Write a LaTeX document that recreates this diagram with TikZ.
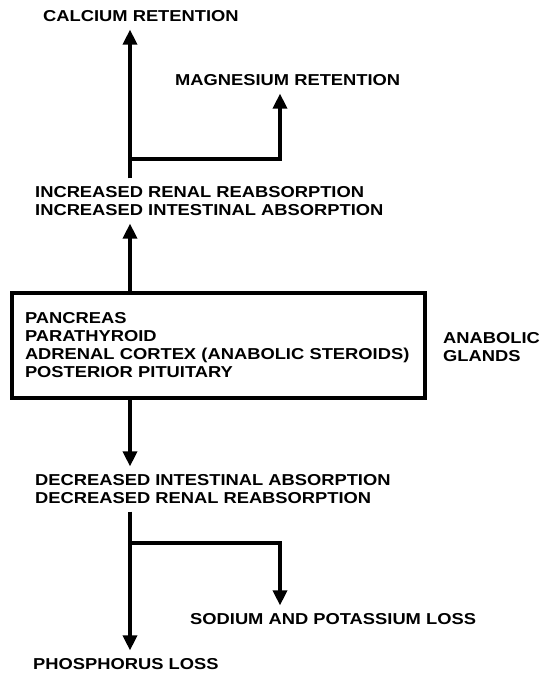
\documentclass[tikz,border=0pt]{standalone}
\usepackage{fontspec}
\usetikzlibrary{arrows.meta}
\newfontfamily\labelfamily{Liberation Sans}[FakeStretch=1.16]
\newcommand\labelfont{\labelfamily\bfseries\fontsize{15.8}{18}\selectfont}

\begin{document}
\begin{tikzpicture}
	[x=1pt,y=-1pt%
	,every node/.style={font=\labelfont,%
		inner sep=0pt,%
		outer ysep=8pt,%
		anchor=west,%
		align=left}%
	,flow/.style={line width=3.4pt,%
		-{Triangle[length=15pt,width=14pt]}}%
	,glandbox/.style={draw,%
		line width=3.4pt,%
		anchor=north west,%
		outer sep=0pt,%
		inner xsep=13pt,%
		text width=387pt,%
		minimum height=105pt}]
	\useasboundingbox (0,0) rectangle (542,675);
	% columns of the arrows
	\coordinate (spine) at (130,0);
	\coordinate (side) at (280,0);
	% texts
	\node (calcium) at (43,16) {CALCIUM RETENTION};
	\node (magnesium) at (175,80) {MAGNESIUM RETENTION};
	\node (increased) at (35,201) {INCREASED RENAL REABSORPTION\\INCREASED INTESTINAL ABSORPTION};
	\node[glandbox] (glands) at (12,293) {PANCREAS\\PARATHYROID\\ADRENAL CORTEX (ANABOLIC STEROIDS)\\POSTERIOR PITUITARY};
	\node (anabolic) at (443,347.5) {ANABOLIC\\GLANDS};
	\node (decreased) at (35,489) {DECREASED INTESTINAL ABSORPTION\\DECREASED RENAL REABSORPTION};
	\node (sodium) at (190,619) {SODIUM AND POTASSIUM LOSS};
	\node (phosphorus) at (33,664) {PHOSPHORUS LOSS};
	% forks
	\coordinate (upfork) at (130,159);
	\coordinate (downfork) at (130,543);
	% connectors
	\draw[flow] (increased.north -| spine) -- (calcium.south -| spine);
	\draw[flow] (upfork) -| (magnesium.south -| side);
	\draw[flow] (glands.north -| spine) -- (increased.south -| spine);
	\draw[flow] (glands.south -| spine) -- (decreased.north -| spine);
	\draw[flow] (decreased.south -| spine) -- (phosphorus.north -| spine);
	\draw[flow] (downfork) -| (sodium.north -| side);
\end{tikzpicture}
\end{document}
